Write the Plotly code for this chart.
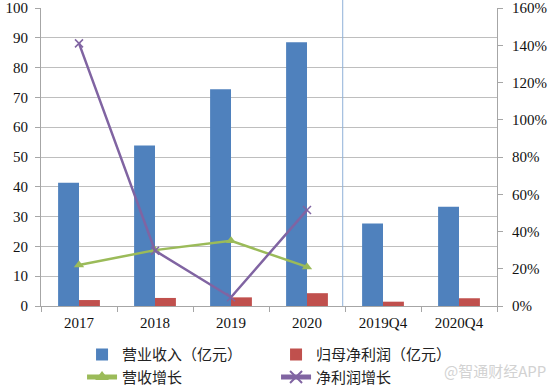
import plotly.graph_objects as go

categories = ["2017", "2018", "2019", "2020", "2019Q4", "2020Q4"]
revenue = [41.4, 53.9, 72.7, 88.5, 27.7, 33.3]          # 营业收入（亿元）
net_profit = [2.0, 2.7, 2.9, 4.3, 1.45, 2.6]           # 归母净利润（亿元）
growth_cats = ["2017", "2018", "2019", "2020"]
revenue_growth = [0.22, 0.30, 0.35, 0.21]              # 营收增长
profit_growth = [1.41, 0.297, 0.047, 0.515]            # 净利润增长
left_ticks = list(range(0, 101, 10))
right_ticks = [i / 100 for i in range(0, 161, 20)]

BLUE = "#4F81BD"
RED = "#C0504D"
GREEN = "#9BBB59"
PURPLE = "#8064A2"
GRID = "#BEBEBE"
AXIS = "#A6A6A6"

serif = "Liberation Serif"
cjk = "Noto Sans CJK SC"

fig = go.Figure()
fig.add_trace(go.Bar(x=categories, y=revenue, name="营业收入（亿元）",
                     marker=dict(color=BLUE, line=dict(width=0))))
fig.add_trace(go.Bar(x=categories, y=net_profit, name="归母净利润（亿元）",
                     marker=dict(color=RED, line=dict(width=0))))
fig.add_trace(go.Scatter(x=growth_cats, y=revenue_growth, name="营收增长", yaxis="y2",
                         mode="lines+markers",
                         line=dict(color=GREEN, width=2.5),
                         marker=dict(symbol="triangle-up", size=9, color=GREEN)))
fig.add_trace(go.Scatter(x=growth_cats, y=profit_growth, name="净利润增长", yaxis="y2",
                         mode="lines+markers",
                         line=dict(color=PURPLE, width=2.5),
                         marker=dict(symbol="x-thin", size=8,
                                     line=dict(color=PURPLE, width=1.5))))

fig.add_shape(type="line", xref="x", yref="paper", x0=3.47, x1=3.47, y0=0, y1=1.03,
              line=dict(color="#8FB0D8", width=1))

fig.add_annotation(text="@智通财经APP", xref="paper", yref="paper",
                   x=(548 - 41) / 456, y=(306 - 370) / 298, xanchor="right", yanchor="middle",
                   showarrow=False,
                   font=dict(family=cjk, size=15, color="#D2D2D2"))

fig.update_layout(
    width=554, height=388,
    margin=dict(l=41, r=57, t=8, b=82, autoexpand=False),
    paper_bgcolor="white", plot_bgcolor="white",
    barmode="group", bargap=0.45, bargroupgap=0,
    showlegend=True,
    legend=dict(orientation="h", x=0.09, xanchor="left", y=-0.108, yanchor="top",
                entrywidth=149, entrywidthmode="pixels",
                font=dict(family=cjk, size=15, color="#222222"),
                tracegroupgap=0, itemsizing="constant"),
    font=dict(family=serif, size=15, color="#111111"),
    xaxis=dict(type="category", categoryorder="array", categoryarray=categories,
               tickson="boundaries", ticks="outside", ticklen=5, tickcolor=AXIS,
               showline=True, linecolor=AXIS, linewidth=1, showgrid=False,
               automargin=False, ticklabelstandoff=3,
               tickfont=dict(family=serif, size=15, color="#111111")),
    yaxis=dict(range=[0, 100], tickvals=left_ticks, ticks="outside", ticklen=5,
               tickcolor=AXIS, showline=True, linecolor=AXIS, linewidth=1,
               showgrid=True, gridcolor=GRID, gridwidth=1, zeroline=False,
               automargin=False, ticklabelstandoff=4,
               tickfont=dict(family=serif, size=15, color="#111111")),
    yaxis2=dict(range=[0, 1.6], tickvals=right_ticks, tickformat=".0%",
                overlaying="y", side="right", ticks="outside", ticklen=5,
                tickcolor=AXIS, showline=True, linecolor=AXIS, linewidth=1,
                showgrid=False, zeroline=False, automargin=False,
                ticklabelstandoff=6,
                tickfont=dict(family=serif, size=15, color="#111111")),
)

fig.write_html(
    "out.html",
    config={"displayModeBar": False},
    post_script="document.body.style.margin='0';document.body.style.overflow='hidden';",
)
